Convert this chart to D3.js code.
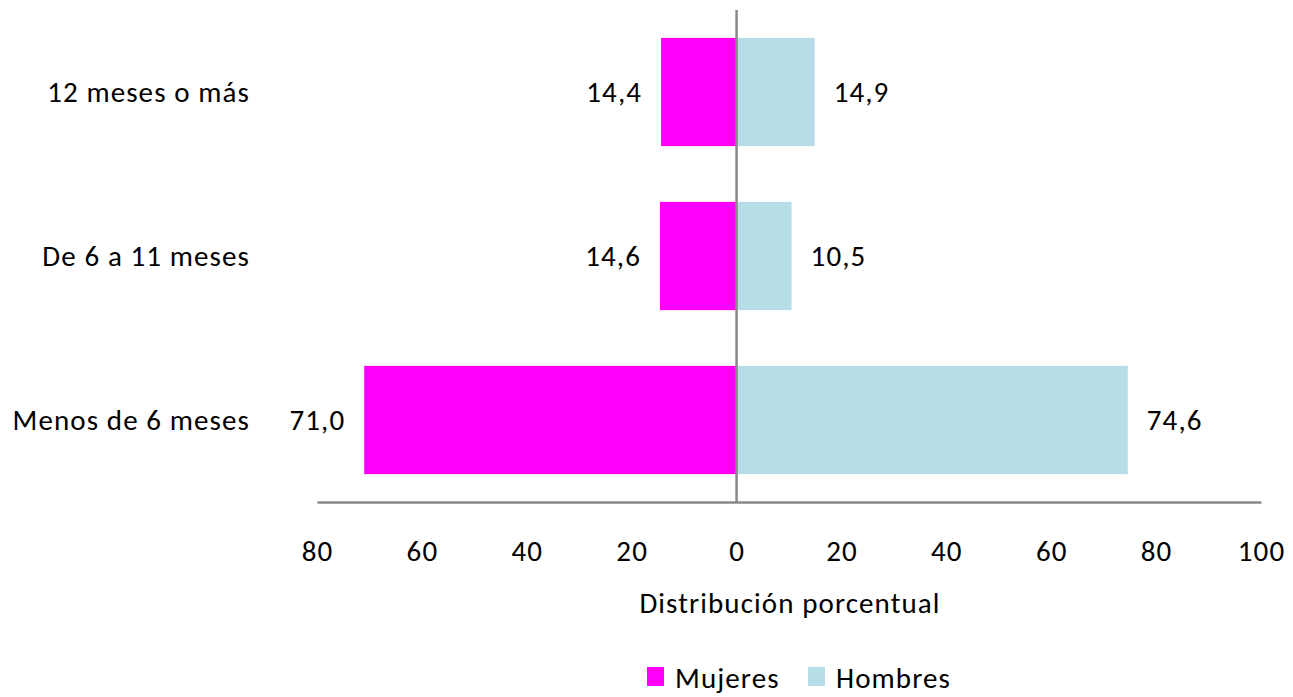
<!DOCTYPE html>
<html><head><meta charset="utf-8">
<script src="https://cdn.jsdelivr.net/npm/d3@7"></script>
<style>body{margin:0;background:#fff}svg{display:block}text{font-family:Carlito,Lato,"Open Sans",sans-serif;fill:#000;font-size:29px;letter-spacing:1.1px}</style>
</head><body><svg id="c" width="1293" height="697"></svg>
<script>
const categories = ["12 meses o más","De 6 a 11 meses","Menos de 6 meses"];
const mujeres = [14.4, 14.6, 71.0];
const hombres = [14.9, 10.5, 74.6];
const tickValues = [-80,-60,-40,-20,0,20,40,60,80,100];
const seriesNames = ["Mujeres","Hombres"];
const colors = ["#FF00FF","#B7DDE8"];

const svg = d3.select("#c");
const x = d3.scaleLinear().domain([-80,100]).range([317,1261]);
const y = d3.scaleBand().domain(categories).range([10,502]).paddingInner(0.34).paddingOuter(0.17);
const fmt = v => d3.format(".1f")(v).replace(".", ",");

// bars
svg.selectAll("rect.m").data(categories).join("rect").attr("class","m")
  .attr("x", (d,i)=>x(-mujeres[i])).attr("width",(d,i)=>x(0)-x(-mujeres[i]))
  .attr("y", d=>y(d)).attr("height", y.bandwidth()).attr("fill", colors[0]);
svg.selectAll("rect.h").data(categories).join("rect").attr("class","h")
  .attr("x", x(0)).attr("width",(d,i)=>x(hombres[i])-x(0))
  .attr("y", d=>y(d)).attr("height", y.bandwidth()).attr("fill", colors[1]);

// axis
const ax = d3.axisBottom(x).tickValues(tickValues).tickSize(0).tickPadding(0)
  .tickFormat(d=>Math.abs(d));
const g = svg.append("g").attr("transform","translate(0,502)").call(ax);
g.select(".domain").attr("stroke","#898989").attr("stroke-width",2.5);
g.selectAll("text").attr("y",49).attr("dy","0.35em").attr("fill","#000").style("font-size","29px");
// vertical zero line
svg.append("line").attr("x1",x(0)).attr("x2",x(0)).attr("y1",10).attr("y2",502)
  .attr("stroke","#898989").attr("stroke-width",2.5);

// category labels
svg.selectAll("text.cat").data(categories).join("text").attr("class","cat")
  .attr("x",250).attr("y",d=>y(d)+y.bandwidth()/2).attr("dy","0.35em")
  .attr("text-anchor","end").text(d=>d);

// value labels
svg.selectAll("text.vm").data(categories).join("text").attr("class","vm")
  .attr("x",(d,i)=>x(-mujeres[i])-19).attr("y",d=>y(d)+y.bandwidth()/2).attr("dy","0.35em")
  .attr("text-anchor","end").text((d,i)=>fmt(mujeres[i]));
svg.selectAll("text.vh").data(categories).join("text").attr("class","vh")
  .attr("x",(d,i)=>x(hombres[i])+19).attr("y",d=>y(d)+y.bandwidth()/2).attr("dy","0.35em")
  .attr("text-anchor","start").text((d,i)=>fmt(hombres[i]));

// axis title
svg.append("text").attr("x",790).attr("y",603).attr("dy","0.35em").attr("text-anchor","middle")
  .text("Distribución porcentual");

// legend
const lx = [647, 808];
seriesNames.forEach((n,i)=>{
  svg.append("rect").attr("x",lx[i]).attr("y",667).attr("width",17).attr("height",19).attr("fill",colors[i]);
  svg.append("text").attr("x",lx[i]+28).attr("y",688).text(n);
});
</script></body></html>
